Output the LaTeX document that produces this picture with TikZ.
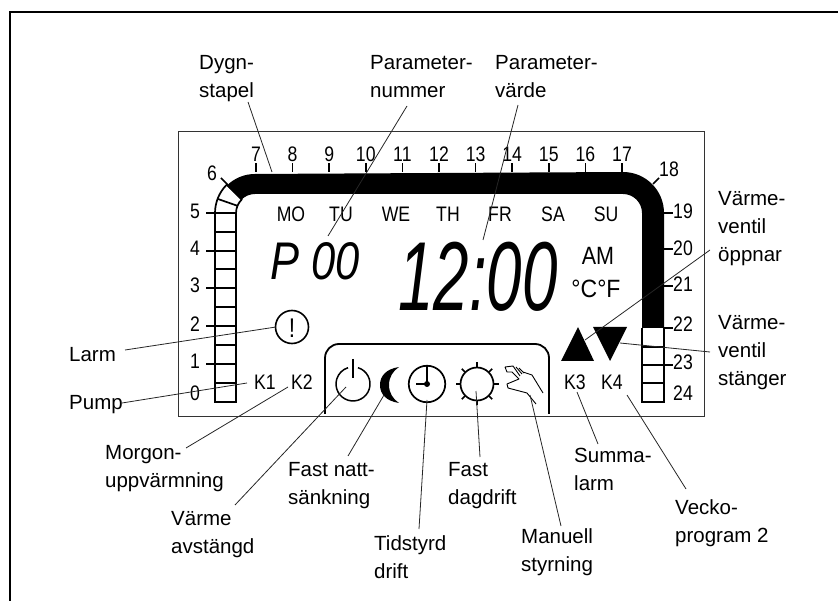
\documentclass[tikz,border=0pt]{standalone}
\usepackage{fontspec}
\setmainfont{Liberation Sans}
\usetikzlibrary{positioning}
\tikzset{
    lbl/.style={align=left, anchor=north west, font=\fontsize{20.5}{28}\selectfont, inner sep=0pt},
    disp/.style={font=\fontsize{21}{24}\selectfont, xscale=.84, inner sep=0pt},
    lead/.style={line width=.8pt, black!85},
    tick/.style={line width=1.6pt},
    bar/.style={line width=1.7pt},
}
\begin{document}
\begin{tikzpicture}[x=1pt, y=-1pt]
    \useasboundingbox (0,0) rectangle (838,601);

    % Outer frame and display frame
    \draw[line width=2pt] (838,12) -- (10,12) -- (10,601);
    \draw[line width=1pt, black!80] (178,132) rectangle (704,417);

    % Left strip
    \draw[bar] (215,213) -- (215,402) -- (236,402) -- (236,213);
    \foreach \y in {232,251,269,288,307,326,345,364,383} {
        \draw[bar] (215,\y) -- (236,\y);
    }
    \draw[bar] (215,213) arc (180:225:40) -- (241.6,199.6) arc (225:180:19) -- cycle;
    \draw[bar] (218,199) -- (238,206);

    % Day bar
    \fill (226.7,185.7) arc (225:270:40) -- (623,172) arc (270:360:41) -- (664,328) -- (642,328) -- (642,213)
        arc (360:270:19) -- (255,194) arc (270:225:19) -- cycle;

    % Right strip
    \draw[bar] (642,328) -- (642,402) -- (664,402) -- (664,328);
    \foreach \y in {347,365,383} {
        \draw[bar] (642,\y) -- (664,\y);
    }

    % Ticks and hours
    \foreach \h [count=\i from 0] in {7,8,...,17} {
        \pgfmathsetmacro{\tx}{256+36.6*\i}
        \draw[tick] (\tx,172) -- (\tx,163);
        \node[disp] (h\h) at (\tx,154) {\h};
    }
    \foreach \h/\y/\ly in {5/213/211, 4/251/248, 3/288/285, 2/326/324, 1/364/361} {
        \draw[tick] (215,\y) -- (206,\y);
        \node[disp] (h\h) at (195,\ly) {\h};
    }
    \node[disp] (h0) at (195,393) {0};
    \draw[tick] (221,178) -- (228,185);
    \node[disp] (h6) at (212,173) {6};
    \draw[tick] (659,178) -- (653,184);
    \node[disp] (h18) at (669,169) {18};
    \foreach \h/\y/\ly in {19/213/211, 20/249/248, 21/286/284, 22/328/324, 23/365/362} {
        \draw[tick] (664,\y) -- (673,\y);
        \node[disp] (h\h) at (683,\ly) {\h};
    }
    \node[disp] (h24) at (683,393) {24};

    % Weekdays
    \foreach \d/\x in {MO/291, TU/341, WE/396, TH/448, FR/500, SA/553, SU/606} {
        \node[disp] (d\d) at (\x,214) {\d};
    }

    % Readouts
    \node[font=\fontsize{53}{60}\selectfont\itshape, xscale=.82, inner sep=0pt] (pnum) at (315,261) {P 00};
    \node[font=\fontsize{98}{110}\selectfont\itshape, xscale=.65, inner sep=0pt] (pval) at (478,277) {12:00};
    \node[font=\fontsize{25}{28}\selectfont, xscale=.86, inner sep=0pt] (ampm) at (598,256) {AM};
    \node[font=\fontsize{25}{28}\selectfont, xscale=.92, inner sep=0pt] (unit) at (596,289) {°C°F};

    % Alarm
    \node[draw, circle, line width=1.6pt, minimum size=33pt, inner sep=0pt] (alarm) at (292,327) {};
    \node[font=\fontsize{27}{30}\selectfont, xscale=.84, inner sep=0pt] (bang) at (292,328) {!};

    % K labels
    \node[disp] (k1) at (265,382) {K1};
    \node[disp] (k2) at (302,382) {K2};
    \node[disp] (k3) at (575,382) {K3};
    \node[disp] (k4) at (612,382) {K4};

    % Valve triangles
    \fill (578,327) -- (594,361) -- (561,361) -- cycle;
    \fill (593,327) -- (627,327) -- (610,361) -- cycle;

    % Mode panel
    \draw[line width=1.8pt] (325,414) -- (325,358) arc (180:270:14) -- (535,344) arc (270:360:14) -- (549,414);

    % Power
    \draw[line width=1.5pt] (353,359) -- (353,378);
    \draw[line width=1.5pt] (358,367.7) arc (-73:253:17);

    % Moon
    \fill (399,367) .. controls (386,369) and (380,376) .. (380,385) .. controls (380,394) and (386,401) .. (399,403)
        .. controls (393,399) and (389,393) .. (389,385) .. controls (389,377) and (393,371) .. (399,367) -- cycle;

    % Clock
    \node[draw, circle, line width=1.7pt, minimum size=36.5pt, inner sep=0pt] (clock) at (427,384) {};
    \draw[line width=1.5pt] (clock.north) -- (clock.center) -- (416,384);
    \fill (clock.center) circle (3);

    % Sun
    \node[draw, circle, line width=1.7pt, minimum size=33pt, inner sep=0pt] (sun) at (477,384) {};
    \foreach \a in {0,45,...,315} {
        \draw[line width=1.7pt] (sun.center) ++(\a:17) -- ++(\a:4.5);
    }

    % Hand
    \draw[line width=.9pt, line join=round] (505,367) -- (513,366) -- (520,376)
        (516,367) -- (522,374) (519,368) -- (524,373) (523,372) -- (532,375) -- (543,393)
        (505,367) -- (507,372) -- (512,372) -- (519,379) -- (507,384) -- (508,388) -- (527,393) -- (536,404);

    % Top labels
    \node[lbl] (ldygn) at (199,55) {Dygn-\\stapel};
    \node[lbl] (lpnr) at (370,55) {Parameter-\\nummer};
    \node[lbl] (lpvr) at (495,55) {Parameter-\\värde};
    \coordinate (edygn) at (272,172);
    \coordinate (epnr) at (328,236);
    \coordinate (epvr) at (483,240);
    \draw[lead] (248,102) -- (edygn);
    \draw[lead] (407,106) -- (epnr);
    \draw[lead] (518,105) -- (epvr);

    % Right labels
    \node[lbl] (lopen) at (718,191) {Värme-\\ventil\\öppnar};
    \node[lbl] (lclose) at (718,315) {Värme-\\ventil\\stänger};
    \draw[lead] (710,250) -- (585,340);
    \draw[lead] (620,343) -- (710,352);

    % Left labels
    \node[lbl] (llarm) at (69,347) {Larm};
    \node[lbl] (lpump) at (69,395) {Pump};
    \node[lbl] (lmorgon) at (105,445) {Morgon-\\uppvärmning};
    \node[lbl] (lvarme) at (171,511) {Värme\\avstängd};
    \draw[lead] (125,350) -- (276,327);
    \draw[lead] (122,403) -- (247,383);
    \draw[lead] (186,448) -- (288,387);
    \draw[lead] (235,505) -- (346,387);

    % Bottom labels
    \node[lbl] (lnatt) at (288,462) {Fast natt-\\sänkning};
    \node[lbl] (ltid) at (374,535) {Tidstyrd\\drift};
    \node[lbl] (lfast) at (448,462) {Fast\\dagdrift};
    \node[lbl] (lman) at (521,528) {Manuell\\styrning};
    \node[lbl] (lsum) at (574,448) {Summa-\\larm};
    \node[lbl] (lveck) at (675,499) {Vecko-\\program 2};
    \draw[lead] (348,456) -- (384,395);
    \draw[lead] (419,529) -- (427,400);
    \draw[lead] (480,457) -- (476,391);
    \draw[lead] (561,526) -- (530,395);
    \draw[lead] (598,444) -- (577,392);
    \draw[lead] (686,489) -- (627,395);
\end{tikzpicture}
\end{document}
